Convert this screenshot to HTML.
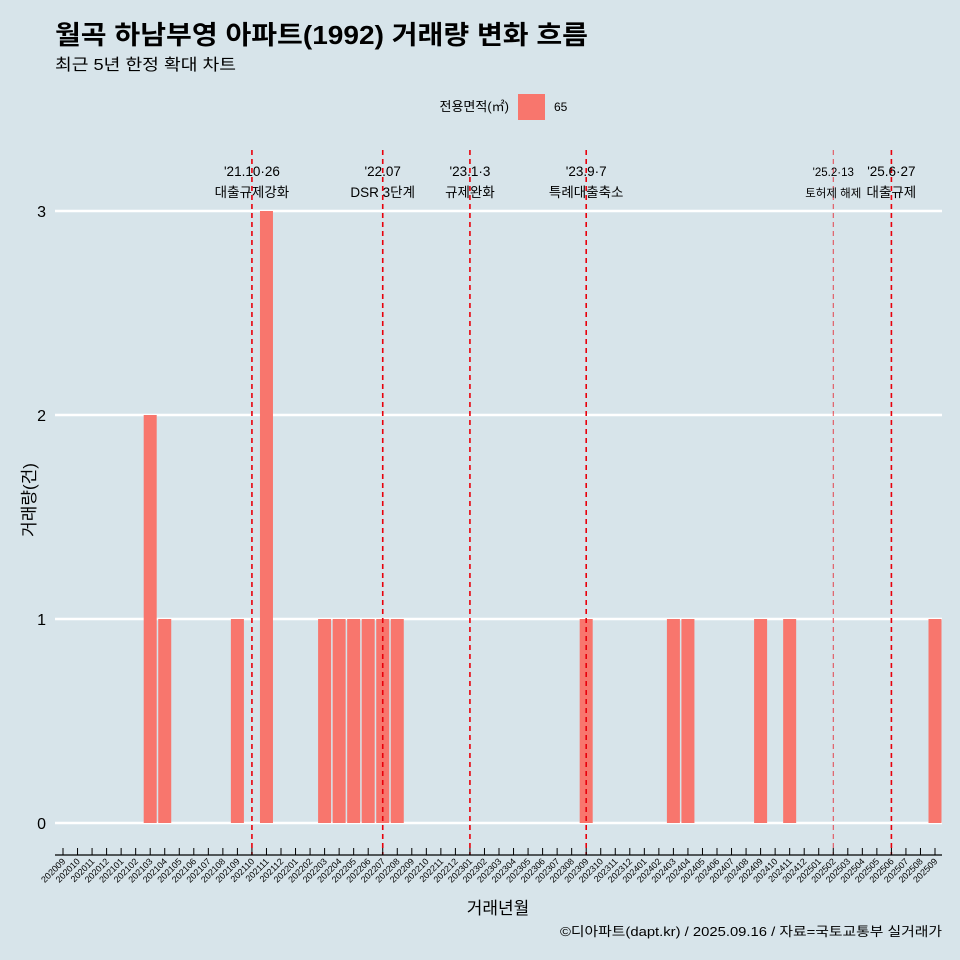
<!DOCTYPE html>
<html><head><meta charset="utf-8"><style>
html,body{margin:0;width:960px;height:960px;overflow:hidden;background:#D7E4EA;font-family:"Liberation Sans","Noto Sans CJK KR",sans-serif;}
svg{display:block}
svg text{font-family:"Liberation Sans","Noto Sans CJK KR",sans-serif;}
</style></head><body>
<svg id="c" width="960" height="960" xmlns="http://www.w3.org/2000/svg">
<rect width="960" height="960" fill="#D7E4EA"/>
<text x="55" y="44" font-size="26" font-weight="bold" fill="#000" textLength="533" lengthAdjust="spacingAndGlyphs">월곡 하남부영 아파트(1992) 거래량 변화 흐름</text>
<text x="55" y="70" font-size="16" fill="#000" textLength="181" lengthAdjust="spacingAndGlyphs">최근 5년 한정 확대 차트</text>
<text x="509" y="111" font-size="13" text-anchor="end">전용면적(㎡)</text>
<rect x="518" y="94" width="27" height="26" fill="#F8766D"/>
<text x="554" y="111" font-size="12">65</text>
<g id="grid"></g><g id="bars"></g><g id="events"></g><g id="xaxis"></g>
<text x="35" y="500" font-size="17" text-anchor="middle" transform="rotate(-90 35 500)">거래량(건)</text>
<text x="498" y="914" font-size="17" text-anchor="middle">거래년월</text>
<text x="560" y="936" font-size="13" textLength="382" lengthAdjust="spacingAndGlyphs">©디아파트(dapt.kr) / 2025.09.16 / 자료=국토교통부 실거래가</text>
</svg>
<script>
const months=[];for(let y=2020;y<=2025;y++)for(let m=1;m<=12;m++){const k=y*100+m;if(k>=202009&&k<=202509)months.push(String(k));}
const barMonths=["202103","202104","202109","202111","202203","202204","202205","202206","202207","202208","202309","202403","202404","202409","202411","202509"];
const barValues=[2,1,1,3,1,1,1,1,1,1,1,1,1,1,1,1];
const yTicks=[0,1,2,3];
const eventMonths=["202110","202207","202301","202309","202502","202506"];
const eventDates=["'21.10·26","'22.07","'23.1·3","'23.9·7","'25.2·13","'25.6·27"];
const eventLabels=["대출규제강화","DSR 3단계","규제완화","특례대출축소","토허제 해제","대출규제"];
const NS="http://www.w3.org/2000/svg";
const x=i=>63+i*(935-63)/60, y=v=>823-v*204;
function mk(t,a,p){const e=document.createElementNS(NS,t);for(const k in a)e.setAttribute(k,a[k]);p.appendChild(e);return e;}
const g=document.getElementById('grid');
yTicks.forEach(v=>{const l=mk('line',{x1:55,x2:942,y1:y(v),y2:y(v),stroke:'#fff','stroke-width':2.5},g);


const t=mk('text',{x:46,y:y(v)+6,'font-size':16,'text-anchor':'end'},g);t.textContent=v;

});
const b=document.getElementById('bars');
barMonths.forEach((m,i)=>{const xi=x(months.indexOf(m));const r=mk('rect',{x:xi-6.5,y:y(barValues[i]),width:13,height:y(0)-y(barValues[i]),fill:'#F8766D'},b);

});
const ev=document.getElementById('events');
eventMonths.forEach((m,i)=>{const xi=x(months.indexOf(m));const small=m==="202502";
const l=mk('line',{x1:xi,x2:xi,y1:150,y2:855,stroke:'#E8000B','stroke-width':small?1:1.6,'stroke-dasharray':'5,4',opacity:small?0.7:1},ev);


const fs=small?11.5:13.5;
const t1=mk('text',{x:xi,y:176,'font-size':fs,'text-anchor':'middle'},ev);t1.textContent=eventDates[i];


const t2=mk('text',{x:xi,y:197,'font-size':fs,'text-anchor':'middle'},ev);t2.textContent=eventLabels[i];

});
const xa=document.getElementById('xaxis');
const al=mk('line',{x1:55,x2:942,y1:855,y2:855,stroke:'#000','stroke-width':1.2},xa);


months.forEach((m,i)=>{const xi=x(i);mk('line',{x1:xi,x2:xi,y1:848,y2:855,stroke:'#000','stroke-width':1},xa);
const t=mk('text',{x:xi+3,y:862,'font-size':9,'text-anchor':'end',transform:`rotate(-45 ${xi+3} 862)`},xa);t.textContent=m;

});
</script>
</body></html>
